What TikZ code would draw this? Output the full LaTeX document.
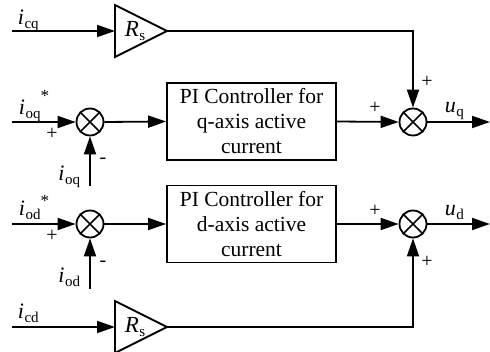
\documentclass[tikz,border=0pt]{standalone}
\usepackage{fontspec}
\setmainfont{Liberation Serif}
\usetikzlibrary{arrows.meta,calc}
\newcommand{\vsub}[2]{\textit{#1}\kern0.5pt\raisebox{-0.35ex}{\fontsize{15}{15}\selectfont #2}}
\begin{document}
\begin{tikzpicture}[x=1pt,y=-1pt, line width=1.8pt,
  >={Triangle[length=18pt,width=12pt]},
  sum/.style={circle,draw,minimum size=27pt,inner sep=0pt},
  gain/.style={inner sep=0pt, font=\fontsize{23}{23}\selectfont},
  pibox/.style={draw, minimum width=169pt, minimum height=77pt, align=center,
    inner sep=0pt, font=\fontsize{21.5}{25}\selectfont},
  lab/.style={font=\fontsize{22}{22}\selectfont, inner sep=0pt},
  sgn/.style={font=\fontsize{20}{20}\selectfont, inner sep=0pt}]
\useasboundingbox (0,0) rectangle (490,352);
% gains (text node + triangle drawn around it)
\node[gain] (g1) at (135,31) {\vsub{R}{s}};
\node[gain] (g2) at (135,327) {\vsub{R}{s}};
\foreach \g in {g1,g2}{
  \coordinate (\g in) at ($(\g.center)+(-20,0)$);
  \coordinate (\g out) at ($(\g.center)+(32,0)$);
  \draw[line join=miter] ($(\g.center)+(-20,-26)$) -- (\g out) -- ($(\g.center)+(-20,26)$) -- cycle;
}
% boxes
\node[pibox] (pq) at (251.5,121.5) {PI Controller for\\q-axis active\\current};
\node[pibox] (pd) at (251.5,224) {PI Controller for\\d-axis active\\current};
% sums
\node[sum] (q1) at (90,122) {};
\node[sum] (q2) at (413,122) {};
\node[sum] (d1) at (90,224) {};
\node[sum] (d2) at (413,224) {};
\foreach \s in {q1,q2,d1,d2}{
  \draw[line width=1.5pt] (\s.north west) -- (\s.south east) (\s.north east) -- (\s.south west);
}
% end points
\coordinate (cqin) at (12,31);
\coordinate (oqin) at (12,122);
\coordinate (odin) at (12,224);
\coordinate (cdin) at (12,327);
\coordinate (oqfb) at (90,186);
\coordinate (odfb) at (90,289);
\coordinate (uqout) at (490,122);
\coordinate (udout) at (490,224);
% connectors
\draw[->] (cqin) -- (g1in);
\draw[->] (g1out) -| (q2.north);
\draw[->] (oqin) -- (q1.west);
\draw[->] (oqfb) -- (q1.south);
\draw[->] (q1.east) -- (pq.west);
\draw[->] (pq.east) -- (q2.west);
\draw[->] (q2.east) -- (uqout);
\draw[->] (odin) -- (d1.west);
\draw[->] (odfb) -- (d1.south);
\draw[->] (d1.east) -- (pd.west);
\draw[->] (pd.east) -- (d2.west);
\draw[->] (d2.east) -- (udout);
\draw[->] (cdin) -- (g2in);
\draw[->] (g2out) -| (d2.south);
% labels
\node[lab, anchor=base west] (lcq) at (17,25) {\vsub{i}{cq}};
\node[lab, anchor=base west] (loqs) at (18,115) {\vsub{i}{oq}\raisebox{13pt}{\fontsize{17}{17}\selectfont *}};
\node[lab, anchor=base east] (loq) at (81,181) {\vsub{i}{oq}};
\node[lab, anchor=base west] (lods) at (18,216) {\vsub{i}{od}\raisebox{9pt}{\fontsize{17}{17}\selectfont *}};
\node[lab, anchor=base east] (lod) at (81,283) {\vsub{i}{od}};
\node[lab, anchor=base west] (lcd) at (17,319) {\vsub{i}{cd}};
\node[lab, anchor=base west] (luq) at (444,113) {\vsub{u}{q}};
\node[lab, anchor=base west] (lud) at (444,216) {\vsub{u}{d}};
% signs
\node[sgn] (s1) at (52,134) {+};
\node[sgn] (s2) at (103,161) {-};
\node[sgn] (s3) at (52,236) {+};
\node[sgn] (s4) at (103,264) {-};
\node[sgn] (s5) at (427,82) {+};
\node[sgn] (s6) at (375,108) {+};
\node[sgn] (s7) at (375,211) {+};
\node[sgn] (s8) at (427,262) {+};
\end{tikzpicture}
\end{document}
